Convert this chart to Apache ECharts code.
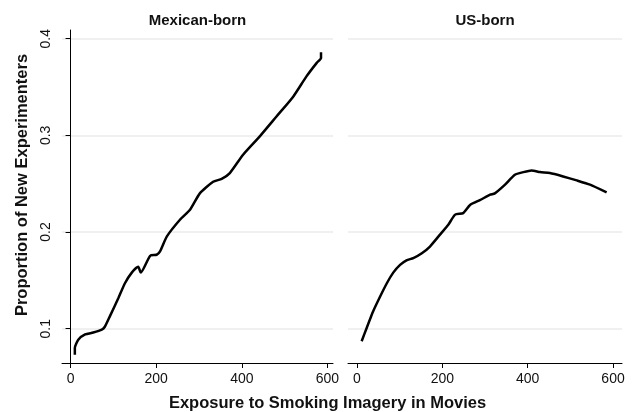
<!DOCTYPE html>
<html>
<head>
<meta charset="utf-8">
<script src="https://cdn.jsdelivr.net/npm/echarts@6/dist/echarts.min.js"></script>
<style>html,body{margin:0;padding:0;background:#fff}#c{width:635px;height:412px}</style>
</head>
<body>
<div id="c"></div>
<script>
const panelTitles = ['Mexican-born', 'US-born'];
const xTitle = 'Exposure to Smoking Imagery in Movies';
const yTitle = 'Proportion of New Experimenters';
const xTicks = [0, 200, 400, 600];
const yTicks = [0.1, 0.2, 0.3, 0.4];
const mexX = [10,10,18,34,53,73,80,92,112,127,143,158,164,186,201,209,225,256,279,302,333,353,372,403,442,481,520,551,575,585,585];
const mexY = [0.073,0.080,0.0886,0.094,0.096,0.099,0.102,0.113,0.132,0.147,0.158,0.164,0.158,0.1755,0.1765,0.180,0.1955,0.213,0.223,0.240,0.252,0.255,0.261,0.280,0.299,0.3195,0.340,0.361,0.375,0.380,0.386];
const usX = [11,23,38,54,70,85,101,116,132,152,171,194,214,230,249,265,288,312,323,347,370,390,409,429,452,483,515,546,585];
const usY = [0.087,0.101,0.118,0.133,0.147,0.158,0.166,0.1707,0.173,0.178,0.185,0.197,0.2075,0.218,0.2196,0.228,0.233,0.2386,0.240,0.249,0.2593,0.262,0.2637,0.262,0.261,0.2575,0.2534,0.249,0.241];

const FONT = '"Liberation Sans", Arial, Helvetica, sans-serif';
const chart = echarts.init(document.getElementById('c'));
function xAxisCfg(idx, min, max) {
  return {
    type: 'value', gridIndex: idx, min: min, max: max,
    axisLine: {show: true, onZero: false, lineStyle: {color: '#000', width: 1}},
    axisTick: {show: true, inside: false, length: 5, customValues: xTicks, lineStyle: {color: '#000'}},
    axisLabel: {show: true, customValues: xTicks, margin: 9, color: '#111', fontSize: 14, fontFamily: FONT},
    splitLine: {show: false}
  };
}
function yAxisCfg(idx, showAxis) {
  return {
    type: 'value', gridIndex: idx, min: 0.0645, max: 0.409,
    axisLine: {show: showAxis, lineStyle: {color: '#000', width: 1}},
    axisTick: {show: showAxis, length: 5, customValues: yTicks, lineStyle: {color: '#000'}},
    axisLabel: {show: showAxis, customValues: yTicks, rotate: 90, margin: 9, color: '#111', fontSize: 14, fontFamily: FONT,
      formatter: v => String(v)},
    splitLine: {show: true, lineStyle: {color: '#ebebeb', width: 1.5}}
  };
}
chart.setOption({
  animation: false,
  grid: [
    {left: 62, top: 30, width: 271, height: 333},
    {left: 348, top: 30, width: 274, height: 333}
  ],
  xAxis: [xAxisCfg(0, -20, 613), xAxisCfg(1, -21, 621)],
  yAxis: [yAxisCfg(0, true), yAxisCfg(1, false)],
  series: [
    {type: 'line', xAxisIndex: 0, yAxisIndex: 0, showSymbol: false, smooth: 0.2,
      data: mexX.map((x, i) => [x, mexY[i]]), lineStyle: {color: '#000', width: 2.5}},
    {type: 'line', xAxisIndex: 1, yAxisIndex: 1, showSymbol: false, smooth: 0.2,
      data: usX.map((x, i) => [x, usY[i]]), lineStyle: {color: '#000', width: 2.5}}
  ],
  graphic: [
    {type: 'text', x: 197.5, y: 21, style: {text: panelTitles[0], align: 'center', verticalAlign: 'middle', font: 'bold 15px ' + FONT, fill: '#111'}},
    {type: 'text', x: 485, y: 21, style: {text: panelTitles[1], align: 'center', verticalAlign: 'middle', font: 'bold 15px ' + FONT, fill: '#111'}},
    {type: 'text', x: 327.5, y: 403, style: {text: xTitle, align: 'center', verticalAlign: 'middle', font: 'bold 16.5px ' + FONT, fill: '#111'}},
    {type: 'text', x: 22, y: 185, rotation: Math.PI / 2, style: {text: yTitle, align: 'center', verticalAlign: 'middle', font: 'bold 16.5px ' + FONT, fill: '#111'}}
  ]
});
</script>
</body>
</html>
